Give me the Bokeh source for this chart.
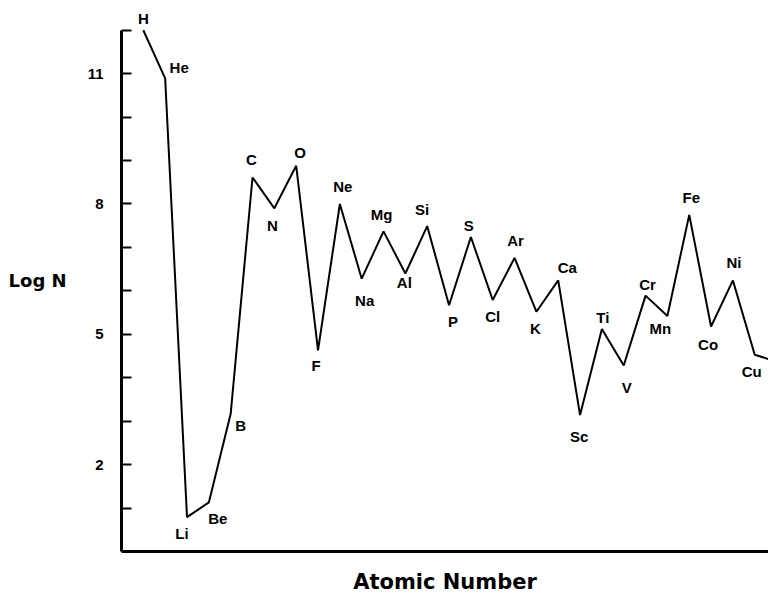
from bokeh.plotting import figure
from bokeh.models import ColumnDataSource, Range1d, FixedTicker
from bokeh.core.properties import value
from bokeh.embed import file_html
from bokeh.resources import INLINE

# Data
atomic_number = list(range(1, 31))
log_n = [12.0, 10.89, 0.79, 1.13, 3.17, 8.61, 7.90, 8.88, 4.63, 8.00,
         6.28, 7.37, 6.40, 7.49, 5.67, 7.24, 5.79, 6.76, 5.52, 6.24,
         3.14, 5.12, 4.28, 5.89, 5.42, 7.75, 5.18, 6.24, 4.53, 4.37]
symbols = ["H", "He", "Li", "Be", "B", "C", "N", "O", "F", "Ne",
           "Na", "Mg", "Al", "Si", "P", "S", "Cl", "Ar", "K", "Ca",
           "Sc", "Ti", "V", "Cr", "Mn", "Fe", "Co", "Ni", "Cu"]
y_major_ticks = [2, 5, 8, 11]
y_minor_ticks = [1, 3, 4, 6, 7, 9, 10, 12]

# label placement (screen pixels, relative to each point)
label_dx = [0, 14, -5, 9, 10, -1, -2, 4, -2, 3,
            3, -2, -1, -5, 4, -2, 0, 1, -1, 9,
            -1, 1, 3, 2, -7, 2, -3, 1, -3]
label_dy = [-12, -11, 16, 16, 12, -18, 17, -13, 15, -17,
            22, -17, 9, -17, 16, -11, 17, -17, 17, -13,
            21, -12, 22, -11, 12, -17, 18, -18, 17]

FONT = "Liberation Sans"
TITLE_FONT = "DejaVu Sans"

p = figure(width=768, height=596, output_backend="svg", toolbar_location=None,
           x_range=Range1d(0, 29.63), y_range=Range1d(0, 12.5),
           min_border_left=121, min_border_right=0, min_border_top=8,
           min_border_bottom=42)
p.outline_line_color = None
p.grid.visible = False
p.background_fill_color = "white"
p.border_fill_color = "white"

line_src = ColumnDataSource(dict(x=atomic_number, y=log_n))
p.line("x", "y", source=line_src, line_color="black", line_width=2)

n = len(symbols)
lab_src = ColumnDataSource(dict(x=atomic_number[:n], y=log_n[:n], t=symbols,
                                dx=label_dx, dy=label_dy))
p.text("x", "y", text="t", source=lab_src, x_offset="dx", y_offset="dy",
       text_align="center", text_baseline="middle",
       text_font=value(FONT), text_font_style="bold", text_font_size="15px",
       text_color="black")

# y axis
ya = p.yaxis[0]
ya.bounds = (0, 12)
ya.ticker = FixedTicker(ticks=y_major_ticks, minor_ticks=y_minor_ticks)
ya.axis_line_width = 3
ya.axis_line_color = "black"
ya.major_tick_in = 10
ya.major_tick_out = 0
ya.minor_tick_in = 10
ya.minor_tick_out = 0
ya.major_tick_line_width = 2
ya.minor_tick_line_width = 2
ya.major_tick_line_color = "black"
ya.minor_tick_line_color = "black"
ya.major_label_standoff = 18
ya.major_label_text_font = FONT
ya.major_label_text_font_style = "bold"
ya.major_label_text_font_size = "15px"
ya.major_label_text_color = "black"
ya.axis_label = "Log N"
ya.axis_label_orientation = "horizontal"
ya.axis_label_text_font = TITLE_FONT
ya.axis_label_text_font_style = "bold"
ya.axis_label_text_font_size = "18px"
ya.axis_label_text_color = "black"
ya.axis_label_standoff = 18

# x axis
xa = p.xaxis[0]
xa.ticker = FixedTicker(ticks=[])
xa.axis_line_width = 3
xa.axis_line_color = "black"
xa.major_tick_line_color = None
xa.minor_tick_line_color = None
xa.axis_label = "Atomic Number"
xa.axis_label_text_font = TITLE_FONT
xa.axis_label_text_font_style = "bold"
xa.axis_label_text_font_size = "21px"
xa.axis_label_text_color = "black"
xa.axis_label_standoff = 18

open("out.html", "w").write(file_html(p, INLINE))
